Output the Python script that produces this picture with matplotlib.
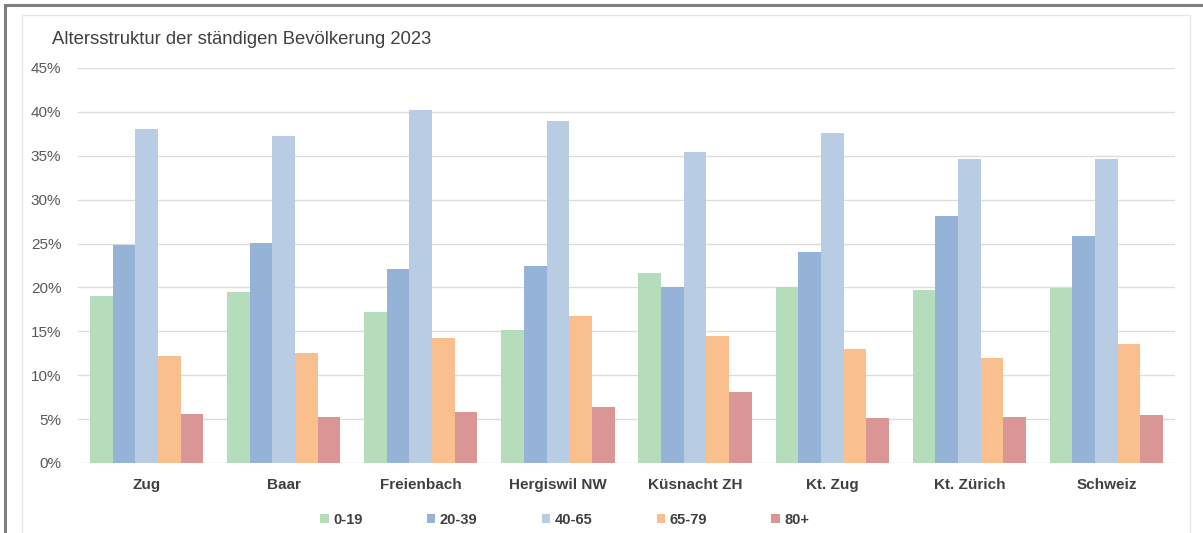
import matplotlib.pyplot as plt
from matplotlib.patches import Rectangle
from matplotlib.ticker import PercentFormatter
import numpy as np

plt.rcParams['font.family'] = ['Liberation Sans', 'DejaVu Sans']

# Data (share of population, %)
places = ['Zug', 'Baar', 'Freienbach', 'Hergiswil NW', 'Küsnacht ZH', 'Kt. Zug', 'Kt. Zürich', 'Schweiz']
groups = ['0-19', '20-39', '40-65', '65-79', '80+']
age_0_19 = [19.0, 19.5, 17.2, 15.1, 21.6, 20.0, 19.7, 19.9]
age_20_39 = [24.8, 25.1, 22.1, 22.4, 20.1, 24.0, 28.1, 25.9]
age_40_65 = [38.0, 37.2, 40.2, 39.0, 35.4, 37.6, 34.6, 34.6]
age_65_79 = [12.2, 12.5, 14.2, 16.7, 14.5, 13.0, 12.0, 13.6]
age_80_plus = [5.6, 5.2, 5.85, 6.4, 8.1, 5.1, 5.2, 5.5]
colors = ['#B5DDBB', '#95B3D7', '#B8CCE4', '#FABF8F', '#DA9694']

series = [age_0_19, age_20_39, age_40_65, age_65_79, age_80_plus]

fig = plt.figure(figsize=(12.03, 5.33), dpi=100)

# screenshot frame + chart area border
fig.patches.append(Rectangle((5 / 1203, -0.1), 1.2, 1 - 5 / 533 + 0.1, transform=fig.transFigure,
                             fill=False, edgecolor='#7F7F7F', linewidth=2.2, zorder=0))
fig.patches.append(Rectangle((22 / 1203, -0.1), (1190 - 22) / 1203, 1 - 15 / 533 + 0.1,
                             transform=fig.transFigure, fill=False, edgecolor='#E6E6E6',
                             linewidth=1.0, zorder=0))

ax = fig.add_axes([78 / 1203, 1 - 463 / 533, (1175 - 78) / 1203, (463 - 68) / 533])

x = np.arange(len(places))
w = 0.165
for i, (vals, lab, c) in enumerate(zip(series, groups, colors)):
    ax.bar(x + (i - 2) * w, np.array(vals) / 100, width=w, color=c, label=lab, zorder=2)

ax.set_xlim(-0.5, len(places) - 0.5)
ax.set_ylim(0, 0.45)
ax.set_yticks(np.arange(0, 0.451, 0.05))
ax.yaxis.set_major_formatter(PercentFormatter(1.0, decimals=0))
ax.grid(axis='y', color='#DDDDDD', linewidth=1.0, zorder=0)
ax.set_axisbelow(True)
for s in ax.spines.values():
    s.set_visible(False)
ax.tick_params(axis='y', length=0, pad=12, labelsize=11, labelcolor='#595959')
ax.tick_params(axis='x', length=0, pad=19)
ax.set_xticks(x)
ax.set_xticklabels(places, fontsize=11, fontweight='bold', color='#404040')
for t in ax.get_xticklabels():
    t.set_va('baseline')

fig.text(52 / 1203, 1 - 40 / 533, 'Altersstruktur der ständigen Bevölkerung 2023',
         fontsize=13.3, color='#404040', va='center', ha='left')

handles, labels = ax.get_legend_handles_labels()
leg = fig.legend(handles, labels, loc='center left', bbox_to_anchor=(320 / 1203, 1 - 520 / 533),
                 ncol=5, frameon=False, handlelength=0.6, handleheight=0.6, handletextpad=0.3,
                 columnspacing=4.4, borderaxespad=0, borderpad=0,
                 prop={'size': 10.5, 'weight': 'bold'})
for t in leg.get_texts():
    t.set_color('#404040')

fig.savefig('out.png', dpi=100)
